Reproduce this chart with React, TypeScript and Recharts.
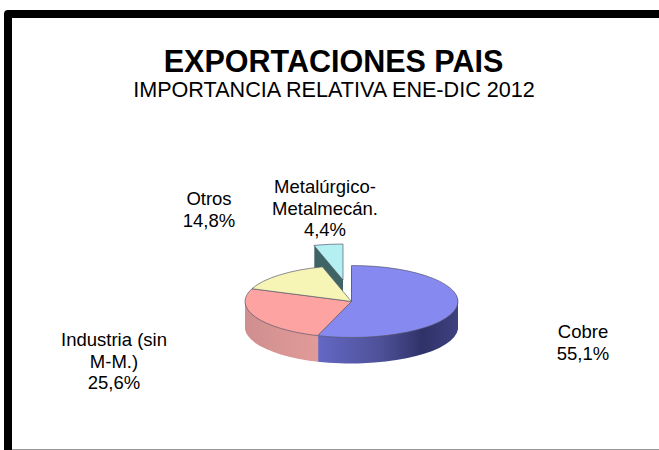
import { PieChart, Pie, Cell } from "recharts";

const categories = ["Cobre", "Industria (sin M-M.)", "Otros", "Metalúrgico-Metalmecán."];
const shares = [55.1, 25.6, 14.8, 4.4];
const topColors = ["#8689ef", "#fda3a1", "#f6f5b6", "#b4eff2"];
const sideColors = ["url(#blueSide)", "url(#pinkSide)", "#b8b78a", "#3f6465"];

const data = categories.map((name, i) => ({ name, value: shares[i] }));

// the pie is drawn round and squashed with a css transform
const SQUASH = 0.338;
const CHART_W = 659;
const CHART_H = Math.round(450 / SQUASH);
const RADIUS = 106.5;
const DEPTH = 26;
const EXPLODED = 3;

const layers = Array.from({ length: DEPTH }, (_, i) => DEPTH - i);

const pct = (v: number) => v.toFixed(1).replace(".", ",") + "%";

function PieLayer({ cx, cy, colors, only, hide, edge }: any) {
  return (
    <Pie
      data={data}
      dataKey="value"
      cx={cx}
      cy={cy / SQUASH}
      outerRadius={RADIUS}
      startAngle={90}
      endAngle={-270}
      stroke="none"
      isAnimationActive={false}
    >
      {data.map((_, i) => {
        const visible = only !== undefined ? i === only : i !== hide;
        return (
          <Cell
            key={i}
            fill={visible ? colors[i] : "transparent"}
            stroke={visible && edge ? "#55556a" : "none"}
            strokeWidth={edge ? 1 : 0}
            vectorEffect="non-scaling-stroke"
          />
        );
      })}
    </Pie>
  );
}

function Label({ x, y, lines }: { x: number; y: number; lines: string[] }) {
  return (
    <div
      style={{
        position: "absolute",
        left: x - 100,
        top: y,
        width: 200,
        textAlign: "center",
        fontSize: 18.5,
        lineHeight: "21.7px",
      }}
    >
      {lines.map((l) => (
        <div key={l}>{l}</div>
      ))}
    </div>
  );
}

export default function App() {
  return (
    <div
      style={{
        position: "absolute",
        left: 0,
        top: 0,
        width: 659,
        height: 450,
        overflow: "hidden",
        background: "#fff",
        fontFamily: "'Liberation Sans', Arial, sans-serif",
        color: "#000",
      }}
    >
      {/* frame: only the top and left edges are in view */}
      <div
        style={{
          position: "absolute",
          left: 4,
          top: 10,
          width: 700,
          height: 460,
          boxSizing: "border-box",
          border: "8px solid #000",
          borderRadius: 4,
        }}
      />
      <div style={{ position: "absolute", left: 12, top: 449, width: 647, height: 1, background: "#999" }} />

      <div
        style={{
          position: "absolute",
          left: 0,
          top: 44,
          width: 667,
          textAlign: "center",
          fontSize: 30.5,
          lineHeight: "34px",
          fontWeight: 700,
        }}
      >
        EXPORTACIONES PAIS
      </div>
      <div
        style={{
          position: "absolute",
          left: 0,
          top: 79,
          width: 668,
          textAlign: "center",
          fontSize: 21.6,
          lineHeight: "22px",
        }}
      >
        IMPORTANCIA RELATIVA ENE-DIC 2012
      </div>

      <div
        style={{
          position: "absolute",
          left: 0,
          top: 0,
          width: CHART_W,
          height: CHART_H,
          transform: `scaleY(${SQUASH})`,
          transformOrigin: "0 0",
        }}
      >
        <PieChart width={CHART_W} height={CHART_H} margin={{ top: 0, right: 0, bottom: 0, left: 0 }}>
          <defs>
            <linearGradient id="blueSide" x1="0" y1="0" x2="1" y2="0">
              <stop offset="0" stopColor="#6468c4" />
              <stop offset="0.45" stopColor="#4e5198" />
              <stop offset="0.75" stopColor="#2f3268" />
              <stop offset="1" stopColor="#3f4180" />
            </linearGradient>
            <linearGradient id="pinkSide" x1="0" y1="0" x2="1" y2="0">
              <stop offset="0" stopColor="#cf8f8e" />
              <stop offset="0.7" stopColor="#e19b99" />
              <stop offset="1" stopColor="#e19b99" />
            </linearGradient>
          </defs>
          {layers.map((d) => PieLayer({ cx: 343, cy: 280 + d, colors: sideColors, only: EXPLODED }))}
          {PieLayer({ cx: 343, cy: 280, colors: topColors, only: EXPLODED, edge: true })}
          {layers.map((d) => PieLayer({ cx: 351.5, cy: 301.5 + d, colors: sideColors, hide: EXPLODED }))}
          {PieLayer({ cx: 351.5, cy: 301.5, colors: topColors, hide: EXPLODED, edge: true })}
        </PieChart>
      </div>

      <Label x={583} y={321} lines={[categories[0], pct(shares[0])]} />
      <Label x={114} y={329} lines={["Industria (sin", "M-M.)", pct(shares[1])]} />
      <Label x={209} y={188} lines={[categories[2], pct(shares[2])]} />
      <Label x={325} y={176} lines={["Metalúrgico-", "Metalmecán.", pct(shares[3])]} />
    </div>
  );
}
